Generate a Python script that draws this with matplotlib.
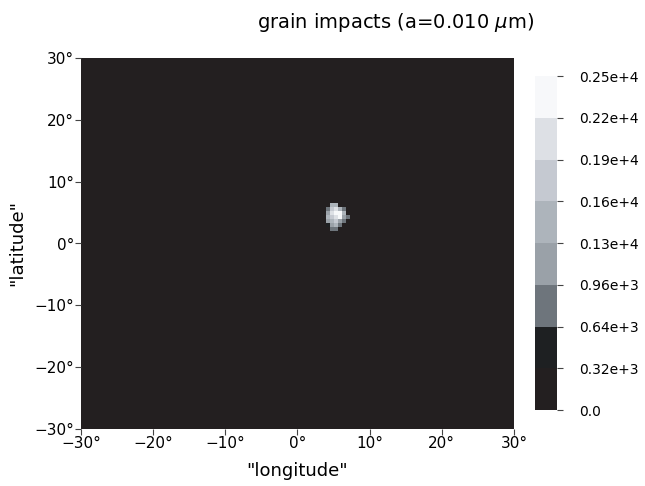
import numpy as np
import matplotlib
matplotlib.use("Agg")
import matplotlib.pyplot as plt
from matplotlib.colors import ListedColormap, BoundaryNorm

# ---- data ----
lon_range = [-30, 30]
lat_range = [-30, 30]
n_lon = 108
n_lat = 92
# patch of non-zero impact counts (rows top->bottom, cols west->east)
patch_col0 = 61
patch_row_top = 55
patch_values = [
    [0,    1450, 1450, 0,    0,    0],
    [800,  1750, 2050, 1450, 800,  0],
    [1130, 2050, 2400, 2400, 1450, 0],
    [1450, 1750, 2050, 2400, 1130, 800],
    [1130, 1450, 1750, 1130, 800,  0],
    [480,  1130, 1450, 800,  0,    0],
    [0,    800,  800,  0,    0,    0],
]
levels = [0, 320, 640, 960, 1280, 1600, 1920, 2240, 2560]
level_labels = ["0.0", "0.32e+3", "0.64e+3", "0.96e+3", "0.13e+4",
                "0.16e+4", "0.19e+4", "0.22e+4", "0.25e+4"]
level_colors = ["#231f20", "#1e2022", "#6e757c", "#9aa1a8",
                "#adb4bb", "#c5c9d1", "#dde0e5", "#f7f8fa"]
xticks = [-30, -20, -10, 0, 10, 20, 30]
yticks = [-30, -20, -10, 0, 10, 20, 30]

# ---- build grid ----
grid = np.zeros((n_lat, n_lon))
pv = np.array(patch_values, dtype=float)
for i, row in enumerate(pv):
    r = patch_row_top - i
    grid[r, patch_col0:patch_col0 + len(row)] = row
lon_edges = np.linspace(lon_range[0], lon_range[1], n_lon + 1)
lat_edges = np.linspace(lat_range[0], lat_range[1], n_lat + 1)

cmap = ListedColormap(level_colors)
norm = BoundaryNorm(levels, cmap.N)

fig = plt.figure(figsize=(6.45, 4.86), dpi=100)
W, H = 645, 486
ax = fig.add_axes([81 / W, 1 - 429 / H, 433 / W, 371 / H])
ax.pcolormesh(lon_edges, lat_edges, grid, cmap=cmap, norm=norm, shading="flat")
ax.set_xlim(lon_range)
ax.set_ylim(lat_range)
ax.set_xticks(xticks)
ax.set_yticks(yticks)
ax.set_xticklabels([f"{t}°".replace("-", "\u2212") for t in xticks])
ax.set_yticklabels([f"{t}°".replace("-", "\u2212") for t in yticks])
ax.tick_params(direction="out", length=4, width=0.8, labelsize=11, pad=1, color="#444444")
for s in ax.spines.values():
    s.set_visible(False)
ax.set_xlabel('"longitude"', fontsize=13, labelpad=8)
ax.set_ylabel('"latitude"', fontsize=13, labelpad=6)

fig.text(396 / W, 1 - 22 / H, r"grain impacts (a=0.010 $\mu$m)", ha="center", va="center", fontsize=14)

cax = fig.add_axes([535 / W, 1 - 410 / H, 22 / W, 334 / H])
cb = fig.colorbar(plt.cm.ScalarMappable(norm=norm, cmap=cmap), cax=cax, ticks=levels)
cb.outline.set_visible(False)
cb.ax.set_yticklabels(level_labels)
cb.ax.tick_params(direction="out", length=4, width=0.8, labelsize=10, pad=12, color="#444444")

fig.savefig("out.png", dpi=100)
